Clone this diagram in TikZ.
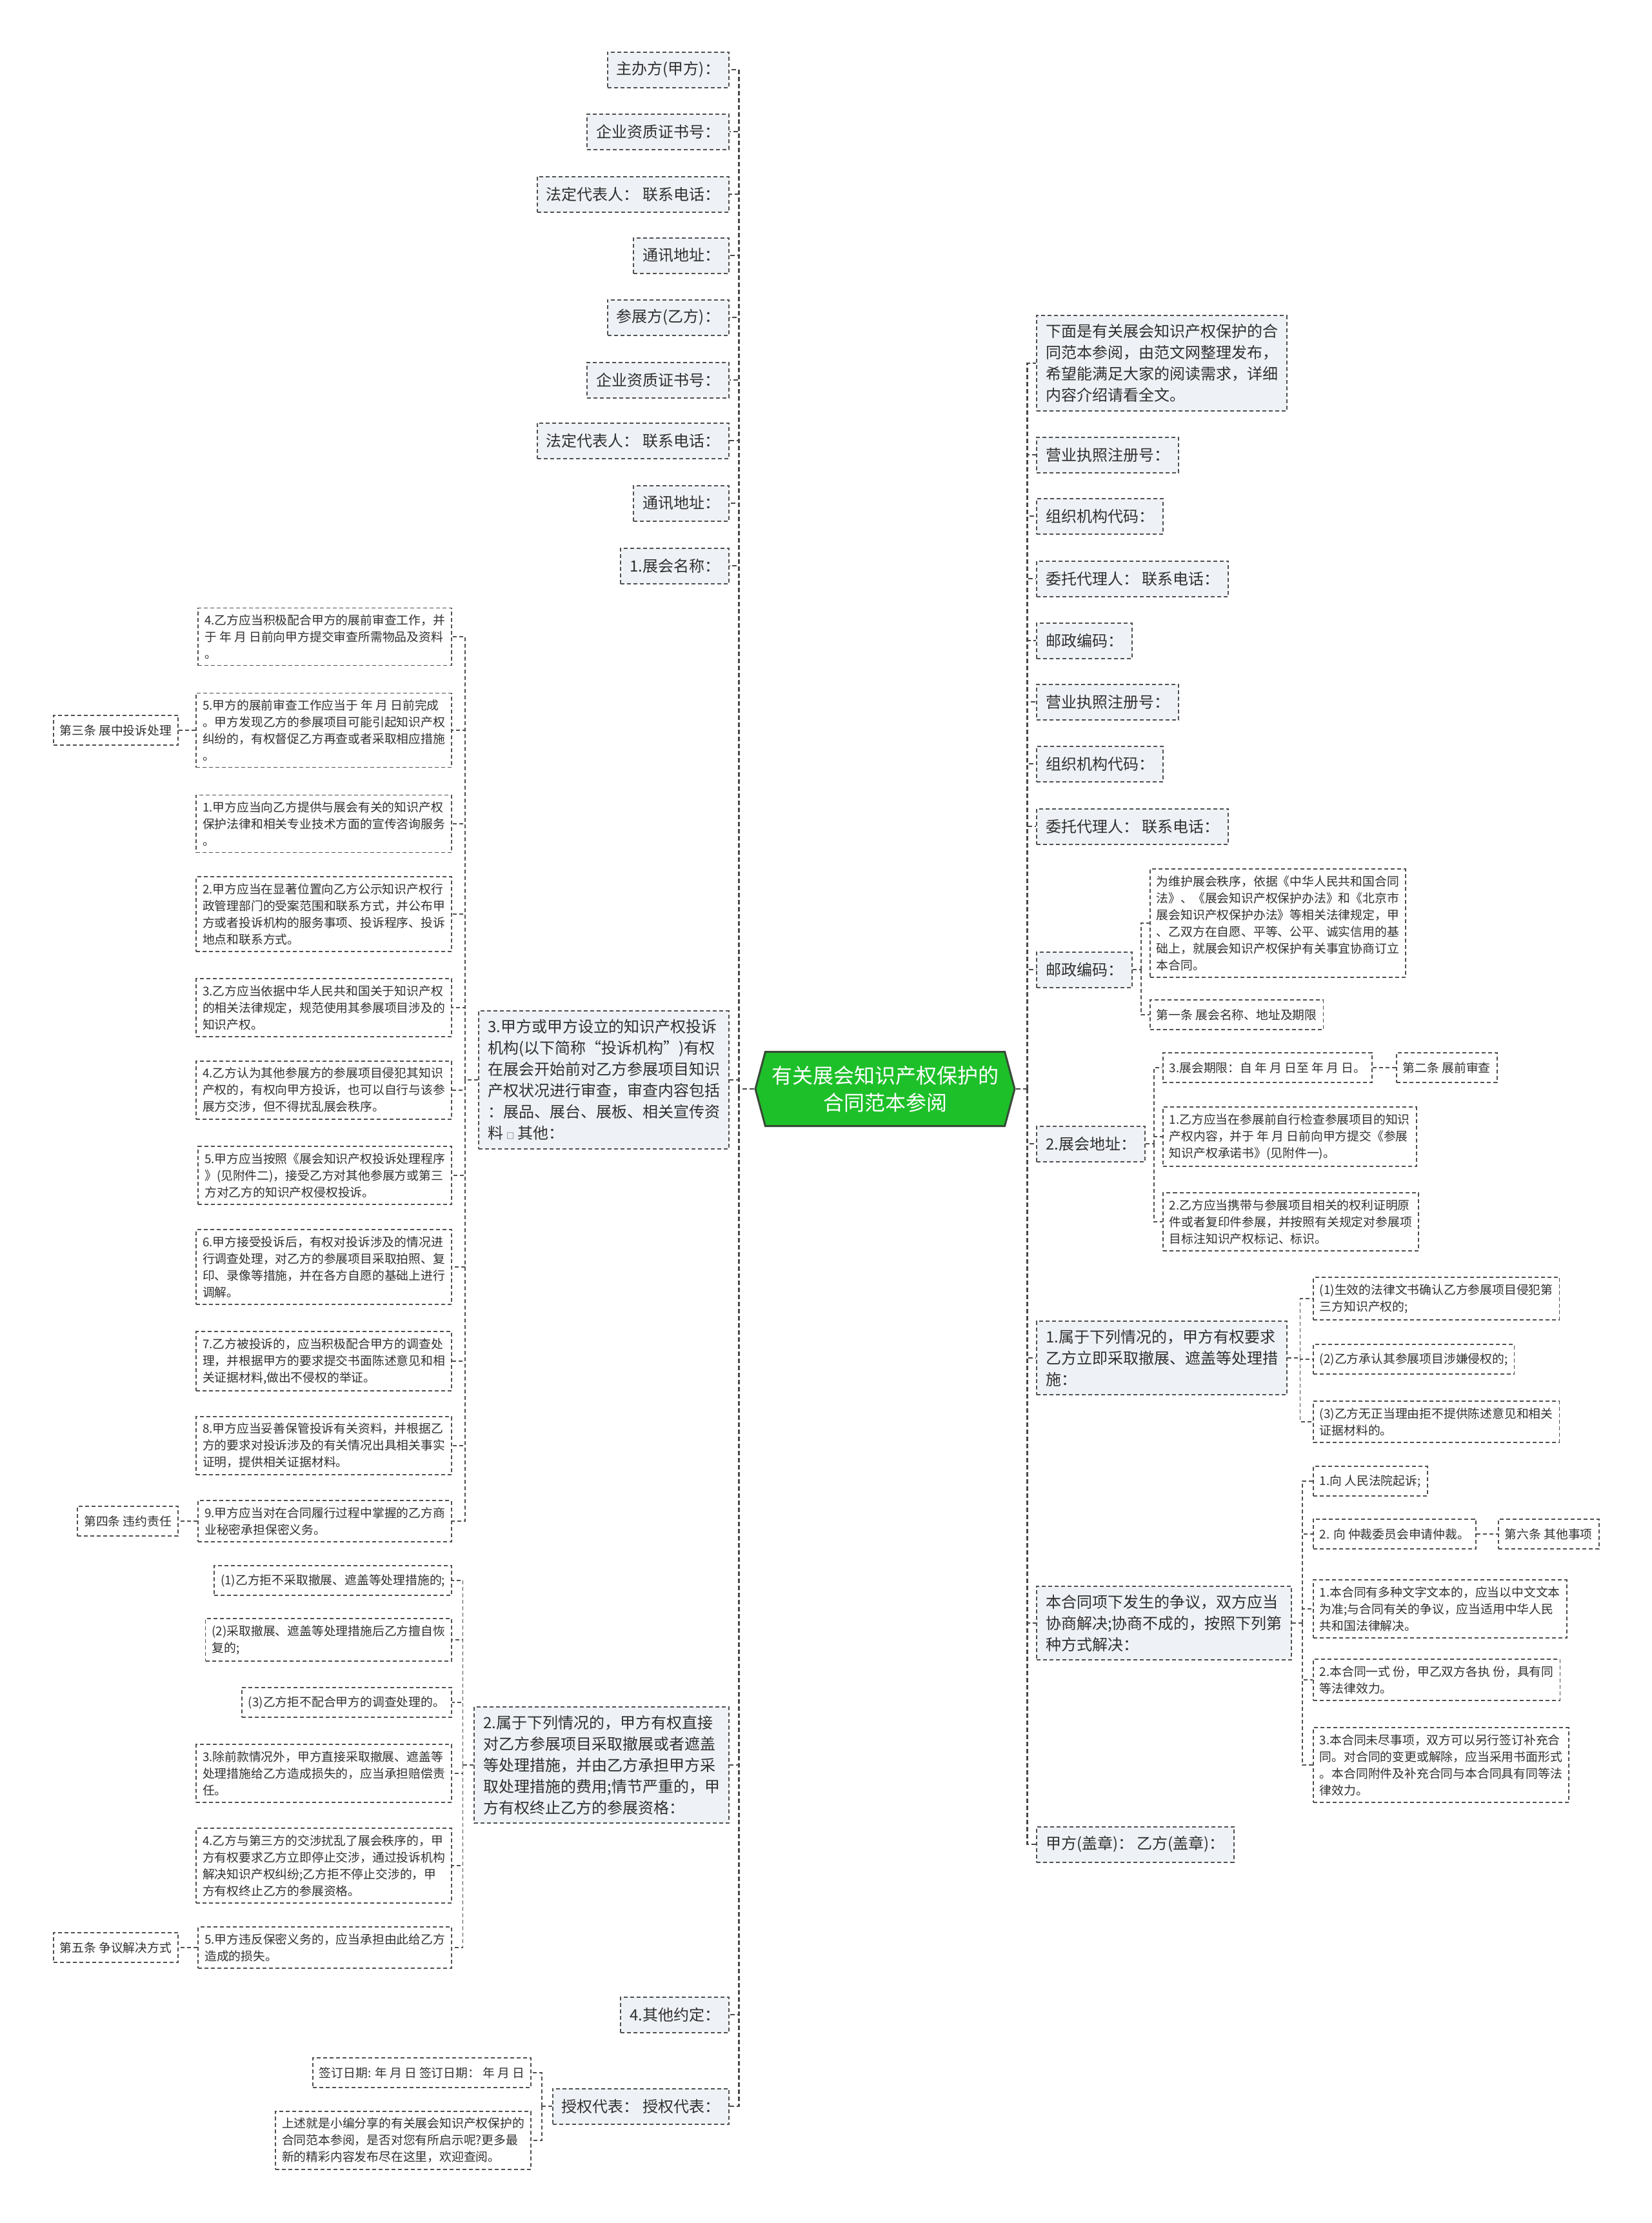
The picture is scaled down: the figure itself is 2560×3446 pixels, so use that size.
\documentclass[tikz,border=0pt]{standalone}
\usepackage{fontspec}
\setmainfont{Noto Sans CJK SC}
\usetikzlibrary{positioning}
\usetikzlibrary{calc}
\usetikzlibrary{shapes.symbols}

\definecolor{rootgreen}{RGB}{30,192,42}
\definecolor{rootline}{RGB}{55,75,55}
\definecolor{topicfill}{RGB}{238,241,245}
\definecolor{boxline}{RGB}{80,80,80}
\definecolor{ink}{RGB}{48,48,48}

\begin{document}
\begin{tikzpicture}[x=1pt, y=-1pt,
    root/.style={signal, signal to=west and east, signal pointer angle=150, draw=rootline, line width=3pt,
      fill=rootgreen, text=white, font=\fontsize{32}{42}\selectfont, align=center,
      minimum width=402pt, minimum height=115pt, inner sep=0pt},
    topic/.style={draw=boxline, line width=2pt, dash pattern=on 6pt off 4pt, fill=topicfill, text=ink,
      font=\fontsize{24}{33}\selectfont, align=left, inner xsep=14pt, inner ysep=13pt, minimum height=55pt},
    leaf/.style={draw=boxline, line width=1.8pt, dash pattern=on 6pt off 4pt, fill=white, text=ink,
      font=\fontsize{18.8}{26}\selectfont, align=left, inner xsep=10pt, inner ysep=10pt, minimum height=46pt},
    trunk/.style={draw=boxline!90!black, line width=2.6pt, dash pattern=on 7pt off 4pt},
    twig/.style={draw=boxline, line width=1.6pt, dash pattern=on 6pt off 4pt}]

  \useasboundingbox[fill=white] (0,0) rectangle (2560,3446);

  \node[root] (root) at (1372,1688) {有关展会知识产权保护的\\合同范本参阅};

  \def\lx{1131} % right edge of the left topics
  \def\rx{1606} % left edge of the right topics
  \def\px{701}  % right edge of the left leaves

  % left topics
  \foreach \i/\y/\txt in {1/108/主办方(甲方)：, 2/204/企业资质证书号：, 3/301/法定代表人： 联系电话：,
      4/396/通讯地址：, 5/492/参展方(乙方)：, 6/589/企业资质证书号：, 7/683/法定代表人： 联系电话：,
      8/780/通讯地址：, 9/877/1.展会名称：, 12/3123/4.其他约定：, 13/3265/授权代表： 授权代表：} {
    \node[topic, anchor=east] (l\i) at (\lx,\y) {\txt};
  }
  \node[topic, anchor=east] (l10) at (\lx,1674) {3.甲方或甲方设立的知识产权投诉\\机构(以下简称“投诉机构”)有权\\在展会开始前对乙方参展项目知识\\产权状况进行审查，审查内容包括\\：展品、展台、展板、相关宣传资\\料 {\fontsize{12}{12}\selectfont □} 其他：};
  \node[topic, anchor=east] (l11) at (\lx,2736) {2.属于下列情况的，甲方有权直接\\对乙方参展项目采取撤展或者遮盖\\等处理措施，并由乙方承担甲方采\\取处理措施的费用;情节严重的，甲\\方有权终止乙方的参展资格：};

  % right topics
  \node[topic, anchor=west] (r1) at (\rx,563) {下面是有关展会知识产权保护的合\\同范本参阅，由范文网整理发布，\\希望能满足大家的阅读需求，详细\\内容介绍请看全文。};
  \foreach \i/\y/\txt in {2/705/营业执照注册号：, 3/800/组织机构代码：, 4/897/委托代理人： 联系电话：,
      5/993/邮政编码：, 6/1088/营业执照注册号：, 7/1184/组织机构代码：, 8/1281/委托代理人： 联系电话：,
      9/1503/邮政编码：, 10/1773/2.展会地址：, 13/2859/甲方(盖章)： 乙方(盖章)：} {
    \node[topic, anchor=west] (r\i) at (\rx,\y) {\txt};
  }
  \node[topic, anchor=west] (r11) at (\rx,2105) {1.属于下列情况的，甲方有权要求\\乙方立即采取撤展、遮盖等处理措\\施：};
  \node[topic, anchor=west] (r12) at (\rx,2516) {本合同项下发生的争议，双方应当\\协商解决;协商不成的，按照下列第\\种方式解决：};

  % leaves of l10
  \node[leaf, anchor=east] (p1) at (\px,987) {4.乙方应当积极配合甲方的展前审查工作，并\\于 年 月 日前向甲方提交审查所需物品及资料\\。};
  \node[leaf, anchor=east] (p2) at (\px,1132) {5.甲方的展前审查工作应当于 年 月 日前完成\\。甲方发现乙方的参展项目可能引起知识产权\\纠纷的，有权督促乙方再查或者采取相应措施\\。};
  \node[leaf, anchor=east] (p3) at (\px,1277) {1.甲方应当向乙方提供与展会有关的知识产权\\保护法律和相关专业技术方面的宣传咨询服务\\。};
  \node[leaf, anchor=east] (p4) at (\px,1417) {2.甲方应当在显著位置向乙方公示知识产权行\\政管理部门的受案范围和联系方式，并公布甲\\方或者投诉机构的服务事项、投诉程序、投诉\\地点和联系方式。};
  \node[leaf, anchor=east] (p5) at (\px,1562) {3.乙方应当依据中华人民共和国关于知识产权\\的相关法律规定，规范使用其参展项目涉及的\\知识产权。};
  \node[leaf, anchor=east] (p6) at (\px,1690) {4.乙方认为其他参展方的参展项目侵犯其知识\\产权的，有权向甲方投诉，也可以自行与该参\\展方交涉，但不得扰乱展会秩序。};
  \node[leaf, anchor=east] (p7) at (\px,1822) {5.甲方应当按照《展会知识产权投诉处理程序\\》(见附件二)，接受乙方对其他参展方或第三\\方对乙方的知识产权侵权投诉。};
  \node[leaf, anchor=east] (p8) at (\px,1964) {6.甲方接受投诉后，有权对投诉涉及的情况进\\行调查处理，对乙方的参展项目采取拍照、复\\印、录像等措施，并在各方自愿的基础上进行\\调解。};
  \node[leaf, anchor=east] (p9) at (\px,2110) {7.乙方被投诉的，应当积极配合甲方的调查处\\理，并根据甲方的要求提交书面陈述意见和相\\关证据材料,做出不侵权的举证。};
  \node[leaf, anchor=east] (p10) at (\px,2241) {8.甲方应当妥善保管投诉有关资料，并根据乙\\方的要求对投诉涉及的有关情况出具相关事实\\证明，提供相关证据材料。};
  \node[leaf, anchor=east] (p11) at (\px,2358) {9.甲方应当对在合同履行过程中掌握的乙方商\\业秘密承担保密义务。};
  \node[leaf, anchor=east] (p2x) at (277,1132) {第三条 展中投诉处理};
  \node[leaf, anchor=east] (p11x) at (277,2358) {第四条 违约责任};

  % leaves of l11
  \node[leaf, anchor=east] (q1) at (\px,2450) {(1)乙方拒不采取撤展、遮盖等处理措施的;};
  \node[leaf, anchor=east] (q2) at (\px,2542) {(2)采取撤展、遮盖等处理措施后乙方擅自恢\\复的;};
  \node[leaf, anchor=east] (q3) at (\px,2639) {(3)乙方拒不配合甲方的调查处理的。};
  \node[leaf, anchor=east] (q4) at (\px,2749) {3.除前款情况外，甲方直接采取撤展、遮盖等\\处理措施给乙方造成损失的，应当承担赔偿责\\任。};
  \node[leaf, anchor=east] (q5) at (\px,2892) {4.乙方与第三方的交涉扰乱了展会秩序的，甲\\方有权要求乙方立即停止交涉，通过投诉机构\\解决知识产权纠纷;乙方拒不停止交涉的，甲\\方有权终止乙方的参展资格。};
  \node[leaf, anchor=east] (q6) at (\px,3019) {5.甲方违反保密义务的，应当承担由此给乙方\\造成的损失。};
  \node[leaf, anchor=east] (q6x) at (277,3019) {第五条 争议解决方式};

  % leaves of l13
  \node[leaf, anchor=east] (s1) at (824,3213) {签订日期: 年 月 日 签订日期： 年 月 日};
  \node[leaf, anchor=east] (s2) at (824,3318) {上述就是小编分享的有关展会知识产权保护的\\合同范本参阅，是否对您有所启示呢?更多最\\新的精彩内容发布尽在这里，欢迎查阅。};

  % leaves of r9 and r10
  \node[leaf, anchor=west] (u1) at (1782,1431) {为维护展会秩序，依据《中华人民共和国合同\\法》、《展会知识产权保护办法》和《北京市\\展会知识产权保护办法》等相关法律规定，甲\\、乙双方在自愿、平等、公平、诚实信用的基\\础上，就展会知识产权保护有关事宜协商订立\\本合同。};
  \node[leaf, anchor=west] (u2) at (1782,1573) {第一条 展会名称、地址及期限};
  \node[leaf, anchor=west] (v1) at (1802,1655) {3.展会期限：自 年 月 日至 年 月 日。};
  \node[leaf, anchor=west] (v2) at (1802,1762) {1.乙方应当在参展前自行检查参展项目的知识\\产权内容，并于 年 月 日前向甲方提交《参展\\知识产权承诺书》(见附件一)。};
  \node[leaf, anchor=west] (v3) at (1802,1894) {2.乙方应当携带与参展项目相关的权利证明原\\件或者复印件参展，并按照有关规定对参展项\\目标注知识产权标记、标识。};
  \node[leaf, anchor=west] (v1x) at (2164,1655) {第二条 展前审查};

  % leaves of r11 and r12
  \node[leaf, anchor=west] (w1) at (2035,2013) {(1)生效的法律文书确认乙方参展项目侵犯第\\三方知识产权的;};
  \node[leaf, anchor=west] (w2) at (2035,2107) {(2)乙方承认其参展项目涉嫌侵权的;};
  \node[leaf, anchor=west] (w3) at (2035,2204) {(3)乙方无正当理由拒不提供陈述意见和相关\\证据材料的。};
  \node[leaf, anchor=west] (z1) at (2035,2296) {1.向 人民法院起诉;};
  \node[leaf, anchor=west] (z2) at (2035,2378) {2. 向 仲裁委员会申请仲裁。};
  \node[leaf, anchor=west] (z3) at (2035,2494) {1.本合同有多种文字文本的，应当以中文文本\\为准;与合同有关的争议，应当适用中华人民\\共和国法律解决。};
  \node[leaf, anchor=west] (z4) at (2035,2604) {2.本合同一式 份，甲乙双方各执 份，具有同\\等法律效力。};
  \node[leaf, anchor=west] (z5) at (2035,2736) {3.本合同未尽事项，双方可以另行签订补充合\\同。对合同的变更或解除，应当采用书面形式\\。本合同附件及补充合同与本合同具有同等法\\律效力。};
  \node[leaf, anchor=west] (z2x) at (2322,2378) {第六条 其他事项};

  % main branches
  \coordinate (lt) at ($(root.west)+(-24,0)$);
  \coordinate (rt) at ($(root.east)+(18,0)$);
  \draw[trunk] (root.west) -- (lt);
  \draw[trunk] (root.east) -- (rt);
  \foreach \i in {1,...,13} {
    \draw[trunk] (lt) |- (l\i.east);
    \draw[trunk] (rt) |- (r\i.west);
  }

  % sub branches, left
  \coordinate (l10t) at ($(l10.west)!.5!(p1.east |- l10.west)$);
  \draw[twig] (l10.west) -- (l10t);
  \foreach \k in {p1,p2,p3,p4,p5,p6,p7,p8,p9,p10,p11}
    \draw[twig] (l10t) |- (\k.east);
  \coordinate (l11t) at ($(l11.west)!.5!(q1.east |- l11.west)$);
  \draw[twig] (l11.west) -- (l11t);
  \foreach \k in {q1,q2,q3,q4,q5,q6}
    \draw[twig] (l11t) |- (\k.east);
  \coordinate (l13t) at ($(l13.west)!.5!(s1.east |- l13.west)$);
  \draw[twig] (l13.west) -- (l13t);
  \foreach \k in {s1,s2}
    \draw[twig] (l13t) |- (\k.east);
  \draw[twig] (p2.west) -- (p2x.east);
  \draw[twig] (p11.west) -- (p11x.east);
  \draw[twig] (q6.west) -- (q6x.east);

  % sub branches, right
  \coordinate (r9t) at ($(r9.east)!.5!(u1.west |- r9.east)$);
  \draw[twig] (r9.east) -- (r9t);
  \foreach \k in {u1,u2}
    \draw[twig] (r9t) |- (\k.west);
  \coordinate (r10t) at ($(r10.east)!.5!(v1.west |- r10.east)$);
  \draw[twig] (r10.east) -- (r10t);
  \foreach \k in {v1,v2,v3}
    \draw[twig] (r10t) |- (\k.west);
  \coordinate (r11t) at ($(r11.east)!.5!(w1.west |- r11.east)$);
  \draw[twig] (r11.east) -- (r11t);
  \foreach \k in {w1,w2,w3}
    \draw[twig] (r11t) |- (\k.west);
  \coordinate (r12t) at ($(r12.east)!.5!(z1.west |- r12.east)$);
  \draw[twig] (r12.east) -- (r12t);
  \foreach \k in {z1,z2,z3,z4,z5}
    \draw[twig] (r12t) |- (\k.west);
  \draw[twig] (v1.east) -- (v1x.west);
  \draw[twig] (z2.east) -- (z2x.west);

\end{tikzpicture}
\end{document}
